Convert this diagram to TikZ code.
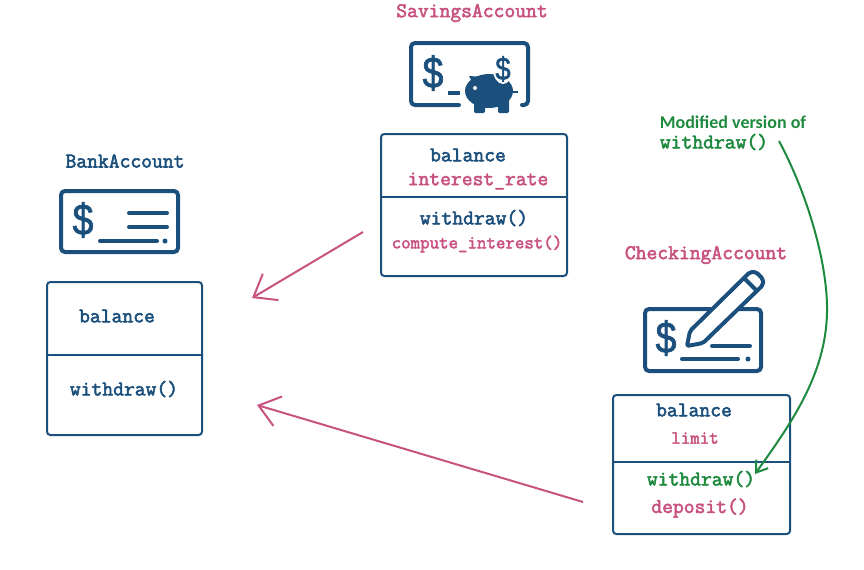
\documentclass[tikz,border=0pt]{standalone}
\usepackage{fontspec}
\newfontfamily\notefont{Carlito}
\newfontfamily\dollarfont[FakeBold=1.5,FakeStretch=0.85]{Liberation Sans}
\newfontfamily\codefont[FakeBold=2.6]{Latin Modern Mono}
\usetikzlibrary{arrows.meta, positioning}

\definecolor{navy}{HTML}{1B4F7C}
\definecolor{rose}{HTML}{C8527F}
\definecolor{leaf}{HTML}{1E8A3E}

\tikzset{
  classbox/.style={draw=navy, line width=1.5pt, rounded corners=2.5pt, inner sep=0pt},
  big/.style={font=\fontsize{15.75}{17}\codefont, inner sep=0pt},
  small/.style={font=\fontsize{13.8}{15}\codefont, inner sep=0pt},
  sepline/.style={navy, line width=1.5pt},
  icon/.style={navy, line width=3pt, rounded corners=3pt, line cap=round, line join=round},
  dollar/.style={navy, inner sep=0pt, font=\fontsize{33}{33}\dollarfont},
  inherit/.style={draw=rose, line width=1.5pt, -{Straight Barb[length=15pt, width=23pt, line width=1.5pt]}},
  modified/.style={draw=leaf, line width=1.5pt, -{Straight Barb[length=8pt, width=11pt, line width=1.5pt]}}
}

\begin{document}
\begin{tikzpicture}[x=0.75pt, y=-0.75pt]

\useasboundingbox (0,0) rectangle (864,569);

% class boxes
\node [classbox, minimum width=116.25pt, minimum height=114.75pt] (bank)     at (124.5,358.5) {};
\node [classbox, minimum width=139.5pt,  minimum height=106.5pt ] (savings)  at (474,205)     {};
\node [classbox, minimum width=132.75pt, minimum height=104.25pt] (checking) at (701.5,464.5) {};

\coordinate (banksep)     at (0,355);
\coordinate (savingssep)  at (0,197);
\coordinate (checkingsep) at (0,462);

\draw [sepline] (bank.west |- banksep)         -- (bank.east |- banksep);
\draw [sepline] (savings.west |- savingssep)   -- (savings.east |- savingssep);
\draw [sepline] (checking.west |- checkingsep) -- (checking.east |- checkingsep);

% class names
\node [big, navy] (bankname)     at (125,161) {BankAccount};
\node [big, rose] (savingsname)  at (472,13)  {SavingsAccount};
\node [big, rose] (checkingname) at (706,255) {CheckingAccount};

% members
\node [big, navy] (bankbalance)  at (117,316) {balance};
\node [big, navy] (bankwithdraw) at (124,389) {withdraw()};

\node [big, navy]   (savingsbalance)  at (468,155) {balance};
\node [big, rose]   (savingsrate)     at (478,181) {interest\_rate};
\node [big, navy]   (savingswithdraw) at (474,218) {withdraw()};
\node [small, rose] (savingscompute)  at (477,244) {compute\_interest()};

\node [big, navy]   (checkingbalance)  at (694,410) {balance};
\node [small, rose] (checkinglimit)    at (695,438) {limit};
\node [big, leaf]   (checkingwithdraw) at (701,479) {withdraw()};
\node [big, rose]   (checkingdeposit)  at (700,508) {deposit()};

% note
\node [leaf, inner sep=0pt, font=\fontsize{13.5}{15}\notefont\bfseries] (notetitle) at (733,122) {Modified version of};
\node [big, leaf] (notecode) at (714,142) {withdraw()};

% bank icon
\draw [icon] (61,191) rectangle (178,252);
\node [dollar] (bankdollar) at (83,220) {\$};
\draw [icon] (129,213) -- (167,213);
\draw [icon] (129,227) -- (167,227);
\draw [icon] (100,241) -- (157,241);
\fill [navy] (165,241) circle (2.5);

% savings icon
\draw [icon] (459,105) -- (411,105) -- (411,43) -- (528,43) -- (528,105) -- (522,105);
\node [dollar] (savingsdollar) at (433,73) {\$};
\draw [navy, line width=3pt] (448,93) -- (460,93);
\fill [navy] (489,91) ellipse (24 and 17);
\fill [navy, rounded corners=1pt] (474,98) rectangle (485,113);
\fill [navy, rounded corners=1pt] (498,98) rectangle (509,113);
\fill [navy] (469,76) -- (484,77) -- (476,90) -- cycle;
\draw [navy, line width=1.5pt] (511,92) -- (518,92);
\fill [white] (475,88) circle (2);
\fill [white] (503,69) ellipse (10 and 15);
\node [navy, inner sep=0pt, font=\fontsize{24}{24}\dollarfont] (piggydollar) at (503,69) {\$};

% checking icon
\draw [icon] (712,309) -- (645,309) -- (645,371) -- (761,371) -- (761,309) -- (738,309);
\node [dollar] (checkingdollar) at (666,338) {\$};
\draw [icon] (712,346) -- (750,346);
\draw [icon] (682,359) -- (738,359);
\fill [navy] (748,359) circle (2.5);
\draw [icon, rounded corners=1.5pt, fill=white] (687,346) -- (690,331) -- (750,272) -- (756,272) -- (763,279) -- (763,285) -- (703,343) -- cycle;
\draw [icon] (745,279) -- (756,290);

% inheritance arrows
\coordinate (savingsfrom) at (363,232);
\coordinate (savingsto)   at (252,298);
\coordinate (checkingfrom) at (583,502);
\coordinate (checkingto)   at (257,405);

\draw [inherit] (savingsfrom) -- (savingsto);
\draw [inherit] (checkingfrom) -- (checkingto);

% modified method
\coordinate (notefrom) at (779,141);
\coordinate (noteto)   at (755,474);

\draw [modified] (notefrom) .. controls (808,195) and (828,265) .. (827,312) .. controls (826,375) and (790,425) .. (noteto);

\end{tikzpicture}
\end{document}
